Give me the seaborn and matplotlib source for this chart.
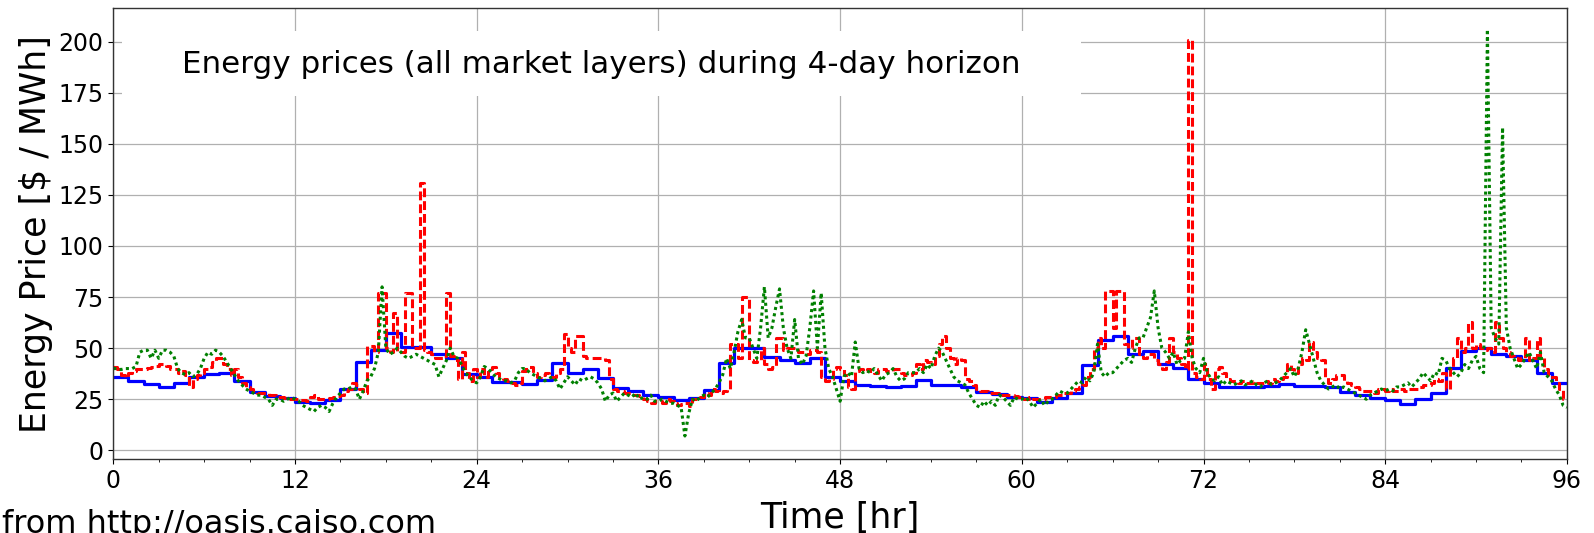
import numpy as np
import pandas as pd
import matplotlib
matplotlib.use("Agg")
import matplotlib.pyplot as plt
import seaborn as sns
from matplotlib.patches import Rectangle
from matplotlib.ticker import MultipleLocator

# ---------------- data ----------------
# hourly (day-ahead) prices, one value per hour, hours 0..95
hourly_price = [
    35.7, 33.9, 32.3, 31.2, 32.8, 35.7, 37.2, 37.7, 34.1, 28.7, 26.6, 25.4,
    23.8, 23.0, 24.6, 29.9, 43.1, 49.1, 57.3, 50.4, 50.4, 47.0, 45.0, 37.2,
    35.7, 33.6, 33.6, 32.3, 34.4, 42.9, 38.0, 40.0, 35.2, 30.3, 29.2, 27.1,
    25.9, 24.6, 25.8, 29.5, 42.9, 50.2, 50.2, 45.5, 44.2, 42.6, 45.0, 36.1,
    33.9, 32.0, 31.5, 30.8, 31.5, 34.4, 31.8, 32.0, 31.2, 28.7, 27.6, 26.3,
    25.4, 23.5, 25.4, 27.9, 41.8, 54.0, 56.0, 47.0, 48.6, 42.3, 40.1, 34.7,
    33.1, 31.2, 31.2, 31.2, 31.5, 32.3, 31.5, 31.5, 30.8, 28.5, 26.9, 25.4,
    24.6, 22.7, 25.0, 27.9, 40.1, 48.8, 49.9, 47.1, 46.2, 44.2, 37.7, 32.8,
]

# 15-minute prices, four values per hour
fifteen_min_price = [
    41, 40, 37, 36,  38, 39, 40, 40,  40, 40.5, 41, 41.5,  42, 42, 41.5, 40,
    40, 38, 39, 37,  31, 35, 37, 38,  40, 41, 43, 45,  45, 42, 40, 37,
    40, 36, 33, 31,  30, 29, 28, 28,  28, 27, 27, 26,  26, 25.5, 25, 25,
    25, 24.5, 24.5, 24,  26, 27, 25, 25,  25, 25.5, 26, 26.5,  27, 29, 30, 33,
    32, 30, 28, 51,  51, 48, 77, 77,  50, 48, 67, 48,  48, 77, 77, 50,
    50, 131, 49, 48,  47, 45, 45, 46,  77, 46, 44, 35,  48, 38, 34, 40,
    36, 40, 36, 40,  41, 38, 36, 35,  34, 33, 32, 33,  39, 41, 41, 38,
    36, 37, 38, 36,  36, 38, 40, 57,  50, 48, 56, 56,  46, 45, 45, 45,
    45, 45, 44, 35,  30, 29, 29, 28,  28, 27, 27, 26.5,  25, 24, 23, 24,
    24, 23, 25, 24,  23, 22, 22.5, 23,  21.5, 25, 25, 26,  28, 27, 30, 29,
    28, 29, 30, 52,  52, 45, 75, 75,  44, 43, 44, 50,  42, 40, 41, 55,
    55, 49, 50, 50,  50, 48, 48, 47,  49, 49, 48, 36,  34, 35, 40, 41,
    40, 37, 31, 30,  39, 40, 39, 40,  39, 38, 40, 40,  39, 39, 40, 40,
    38, 37, 37, 38,  42, 40, 44, 43,  42, 46, 52, 56,  50, 45, 42, 45,
    44, 35, 34, 32,  30, 29, 29, 28,  28, 28, 27, 27,  27, 27, 26.5, 26,
    25, 25, 26, 25,  25, 25, 26, 26,  26, 27, 27, 28,  28, 29, 30, 31,
    32, 36, 40, 50,  55, 50, 78, 78,  60, 78, 78, 52,  50, 55, 55, 47,
    45, 47, 47, 44,  42, 40, 43, 55,  48, 45, 42, 40,  201, 38, 36, 35,
    42, 35, 30, 40,  41, 38, 35, 34,  34, 33, 34, 33,  33, 34, 33, 33,
    34, 33, 35, 34,  35, 36, 42, 40,  38, 42, 45, 44,  53, 48, 45, 44,
    36, 33, 35, 37,  37, 34, 33, 32,  31, 30, 29, 29,  29, 28, 30, 30,
    29, 30, 29, 29,  30, 29, 30, 30,  30, 31, 32, 32,  33, 35, 34, 38,
    30, 40, 45, 55,  48, 50, 63, 50,  52, 50, 49, 50,  48, 63, 55, 50,
    48, 46, 45, 44,  45, 55, 44, 45,  55, 45, 40, 36,  36, 33, 30, 25,
]

# real-time prices sampled every 15 minutes, plus the final value at 96 h
five_min_price = [
    40, 40, 39.5, 40,  40, 40, 41, 48,  49, 49, 45, 49,  45, 49, 49, 48,
    46, 40, 38, 37,  38, 36, 37, 40,  45, 48, 47, 49,  48, 46, 43, 40,
    37, 34, 32, 30,  29, 28, 27, 27,  26, 25, 22, 25,  25, 24, 25, 26,
    25, 24, 22, 21,  20, 19, 21, 22,  21, 19, 23, 26,  28, 30, 30, 31,
    30, 25, 29, 34,  36, 40, 48, 80,  50, 47, 48, 50,  48, 46, 45, 46,
    47, 46, 45, 44,  43, 42, 36, 40,  44, 50, 46, 45,  42, 38, 36, 34,
    33, 36, 41, 40,  38, 36, 35, 34,  34, 33, 34, 38,  40, 40, 38, 37,
    36, 35, 34, 35,  36, 34, 30, 33,  36, 34, 32, 35,  34, 35, 36, 35,
    33, 30, 24, 27,  28, 24, 26, 28,  27, 26, 28, 25,  26, 25, 27, 24,
    24, 25, 24, 23,  23, 22, 21, 7,  18, 25, 24, 26,  27, 26, 28, 30,
    33, 37, 45, 40,  48, 58, 64, 55,  55, 50, 45, 60,  80, 55, 60, 70,
    79, 60, 50, 45,  64, 45, 42, 46,  60, 78, 50, 77,  50, 40, 36, 30,
    24, 36, 38, 36,  53, 40, 38, 39,  38, 40, 37, 34,  37, 38, 40, 36,
    34, 35, 38, 38,  38, 40, 38, 42,  40, 46, 50, 48,  44, 40, 36, 34,
    33, 32, 28, 25,  22, 21, 24, 22,  24, 22, 27, 26,  24, 22, 26, 25,
    25, 26, 24, 21,  23, 25, 22, 24,  25, 27, 29, 28,  28, 30, 32, 34,
    33, 36, 34, 38,  52, 38, 36, 38,  38, 40, 42, 44,  45, 43, 50, 55,
    55, 60, 65, 78,  60, 50, 48, 45,  48, 42, 44, 45,  58, 45, 40, 38,
    45, 38, 35, 34,  36, 32, 34, 33,  32, 33, 34, 32,  33, 34, 32, 31,
    33, 34, 32, 33,  34, 36, 38, 40,  36, 40, 48, 59,  52, 45, 38, 34,
    32, 30, 31, 32,  30, 31, 30, 29,  28, 27, 26, 25,  27, 28, 29, 30,
    29, 30, 29, 31,  31, 32, 33, 31,  33, 35, 38, 36,  34, 38, 37, 45,
    44, 40, 38, 36,  38, 42, 40, 44,  46, 40, 38, 206,  60, 55, 52, 158,
    60, 50, 45, 40,  42, 45, 48, 44,  40, 48, 38, 36,  34, 30, 27, 22,
    21,
]

x_ticks = [0, 12, 24, 36, 48, 60, 72, 84, 96]
y_ticks = [0, 25, 50, 75, 100, 125, 150, 175, 200]
title_text = "Energy prices (all market layers) during 4-day horizon"
x_label = "Time [hr]"
y_label = "Energy Price [$ / MWh]"
source_text = "from http://oasis.caiso.com"

# ---------------- figure ----------------
plt.rcParams["font.family"] = ["DejaVu Sans"]
plt.rcParams["lines.dashed_pattern"] = [2.9, 1.3]
plt.rcParams["lines.dotted_pattern"] = [1.0, 1.1]

fig = plt.figure(figsize=(15.94, 5.33), dpi=100)
ax = fig.add_axes([0.07108, 0.13827, 0.91192, 0.84615])

df_h = pd.DataFrame({"t": np.arange(len(hourly_price) + 1, dtype=float),
                     "price": hourly_price + [hourly_price[-1]]})
df_15 = pd.DataFrame({"t": np.arange(len(fifteen_min_price) + 1) * 0.25,
                      "price": fifteen_min_price + [fifteen_min_price[-1]]})
df_5 = pd.DataFrame({"t": np.arange(len(five_min_price)) * 0.25,
                     "price": five_min_price})

sns.lineplot(data=df_h, x="t", y="price", ax=ax, color="#0000ff", linewidth=2.3,
             drawstyle="steps-post", errorbar=None)
sns.lineplot(data=df_15, x="t", y="price", ax=ax, color="#ff0000", linewidth=2.2,
             linestyle="--", drawstyle="steps-post", errorbar=None)
sns.lineplot(data=df_5, x="t", y="price", ax=ax, color="#008000", linewidth=2.2,
             linestyle=":", errorbar=None)

ax.set_xlim(0, 96)
ax.set_ylim(-4.4, 216.3)
ax.set_xticks(x_ticks)
ax.set_yticks(y_ticks)
ax.xaxis.set_minor_locator(MultipleLocator(3))
ax.tick_params(axis="both", which="major", labelsize=17)
ax.grid(True, which="major", color="#b0b0b0", linewidth=0.9)
ax.set_axisbelow(True)
for s in ax.spines.values():
    s.set_color("#333333")
    s.set_linewidth(1.0)

ax.set_xlabel(x_label, fontsize=25)
ax.xaxis.label.set_va("baseline")
ax.xaxis.set_label_coords(0.5, -0.1525)
ax.set_ylabel(y_label, fontsize=25)
ax.yaxis.set_label_coords(-0.0415, 0.5)

ax.add_patch(Rectangle((0.006, 0.8055), 0.6597, 0.1448, transform=ax.transAxes,
                       facecolor="white", edgecolor="none", zorder=3))
ax.text(0.3355, 0.856, title_text, transform=ax.transAxes, ha="center",
        va="baseline", fontsize=22.3, zorder=4)

fig.text(0.001, 0.0005, source_text, ha="left", va="baseline", fontsize=23)

fig.savefig("out.png", dpi=100)
